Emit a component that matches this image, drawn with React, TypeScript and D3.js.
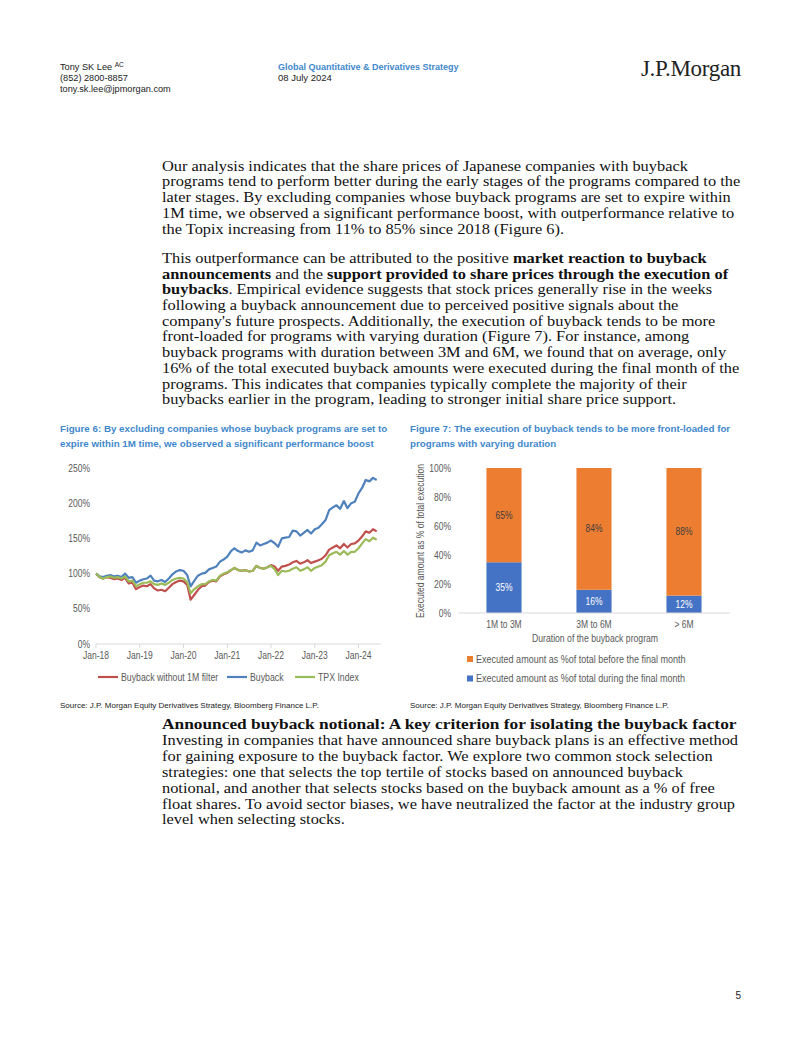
import React from "react";
import * as d3 from "d3";

// ---------- Figure 6 data (monthly, Jan-18 .. Jun-24) ----------
const startYear = 2018;
const buybackNo1M = [
  100, 95, 93, 95, 94, 92, 93, 91, 94, 86, 87, 78,
  81, 83, 82, 85, 79, 76, 77, 75, 80, 85, 88, 90,
  89, 84, 63, 70, 77, 82, 83, 88, 90, 89, 96, 99,
  101, 105, 108, 105, 104, 105, 103, 104, 111, 108, 107, 109,
  112, 110, 104, 110, 111, 113, 116, 118, 114, 116, 119, 115,
  117, 119, 121, 126, 134, 137, 140, 136, 142, 137, 142, 143,
  147, 153, 160, 158, 163, 160,
];
const buyback = [
  100, 96, 95, 97, 98, 96, 97, 95, 100, 94, 95, 87,
  90, 92, 93, 97, 90, 89, 91, 88, 93, 99, 103, 105,
  104, 98, 82, 90, 97, 100, 101, 106, 108, 110, 117, 120,
  124, 132, 136, 132, 130, 133, 131, 133, 144, 140, 142, 144,
  147, 143, 138, 150, 151, 152, 161, 160, 154, 158, 162, 157,
  163, 165, 170, 176, 190, 194, 197, 192, 203, 193, 200, 202,
  214, 222, 233, 231, 236, 233,
];
const tpxIndex = [
  100, 95, 93, 95, 96, 94, 95, 93, 96, 89, 90, 82,
  85, 87, 87, 89, 85, 84, 86, 84, 87, 91, 93, 94,
  93, 88, 72, 78, 82, 85, 85, 89, 91, 90, 97, 100,
  102, 105, 108, 105, 104, 105, 103, 104, 111, 108, 107, 109,
  111, 106, 98, 104, 103, 104, 107, 109, 104, 106, 109, 104,
  108, 110, 112, 117, 126, 129, 131, 127, 132, 127, 131, 131,
  136, 143, 149, 146, 151, 148,
];
const fig6Series = [
  { name: "Buyback without 1M filter", values: buybackNo1M, color: "#C0504D" },
  { name: "Buyback", values: buyback, color: "#4F81BD" },
  { name: "TPX Index", values: tpxIndex, color: "#9BBB59" },
];
const fig6YTicks = [0, 50, 100, 150, 200, 250];
const fig6XTickLabels = ["Jan-18", "Jan-19", "Jan-20", "Jan-21", "Jan-22", "Jan-23", "Jan-24"];

// ---------- Figure 7 data ----------
const fig7Categories = ["1M to 3M", "3M to 6M", "> 6M"];
const duringFinalMonth = [35, 16, 12];
const beforeFinalMonth = [65, 84, 88];
const fig7YTicks = [0, 20, 40, 60, 80, 100];

const BLUE_T = "#3F88CC";
const GREY = "#595959";
const SANS = "Liberation Sans, Arial, sans-serif";
const SERIF = "Liberation Serif, Times New Roman, serif";

type Seg = { t: string; b?: boolean };
const para1: Seg[][] = [
  [{ t: "Our analysis indicates that the share prices of Japanese companies with buyback" }],
  [{ t: "programs tend to perform better during the early stages of the programs compared to the" }],
  [{ t: "later stages. By excluding companies whose buyback programs are set to expire within" }],
  [{ t: "1M time, we observed a significant performance boost, with outperformance relative to" }],
  [{ t: "the Topix increasing from 11% to 85% since 2018 (Figure 6)." }],
];
const para2: Seg[][] = [
  [{ t: "This outperformance can be attributed to the positive " }, { t: "market reaction to buyback", b: true }],
  [{ t: "announcements", b: true }, { t: " and the " }, { t: "support provided to share prices through the execution of", b: true }],
  [{ t: "buybacks", b: true }, { t: ". Empirical evidence suggests that stock prices generally rise in the weeks" }],
  [{ t: "following a buyback announcement due to perceived positive signals about the" }],
  [{ t: "company's future prospects. Additionally, the execution of buyback tends to be more" }],
  [{ t: "front-loaded for programs with varying duration (Figure 7). For instance, among" }],
  [{ t: "buyback programs with duration between 3M and 6M, we found that on average, only" }],
  [{ t: "16% of the total executed buyback amounts were executed during the final month of the" }],
  [{ t: "programs. This indicates that companies typically complete the majority of their" }],
  [{ t: "buybacks earlier in the program, leading to stronger initial share price support." }],
];
const heading3: Seg[][] = [
  [{ t: "Announced buyback notional: A key criterion for isolating the buyback factor", b: true }],
];
const para3: Seg[][] = [
  [{ t: "Investing in companies that have announced share buyback plans is an effective method" }],
  [{ t: "for gaining exposure to the buyback factor. We explore two common stock selection" }],
  [{ t: "strategies: one that selects the top tertile of stocks based on announced buyback" }],
  [{ t: "notional, and another that selects stocks based on the buyback amount as a % of free" }],
  [{ t: "float shares. To avoid sector biases, we have neutralized the factor at the industry group" }],
  [{ t: "level when selecting stocks." }],
];

function Para({ lines, x, y, lh, sx = 1.115 }: { lines: Seg[][]; x: number; y: number; lh: number; sx?: number }) {
  return (
    <g fontFamily={SERIF} fontSize={14.7} fill="#111" transform={`translate(${x},${y}) scale(${sx},1)`}>
      {lines.map((segs, i) => (
        <text key={i} x={0} y={i * lh}>
          {segs.map((s, j) => (
            <tspan key={j} fontWeight={s.b ? "bold" : "normal"}>{s.t}</tspan>
          ))}
        </text>
      ))}
    </g>
  );
}

// condensed chart label (Arial Narrow look)
function T({
  x, y, children, anchor = "start", size = 10, fill = GREY, sx = 0.85, rotate = 0,
}: {
  x: number; y: number; children: React.ReactNode; anchor?: string; size?: number; fill?: string; sx?: number; rotate?: number;
}) {
  return (
    <text
      transform={`translate(${x},${y})${rotate ? ` rotate(${rotate})` : ""} scale(${sx},1)`}
      textAnchor={anchor as any}
      fontFamily={SANS}
      fontSize={size}
      fill={fill}
    >
      {children}
    </text>
  );
}

function Fig6() {
  const dates = buyback.map((_, i) => new Date(startYear, i, 1));
  const x = d3.scaleTime().domain([new Date(2018, 0, 1), new Date(2024, 0, 1)]).range([96, 358.5]);
  const y = d3.scaleLinear().domain([0, 250]).range([644, 468]);
  const line = d3.line<number>().x((_, i) => x(dates[i])).y((d) => y(d));
  const xTicks = fig6XTickLabels.map((_, i) => new Date(2018 + i, 0, 1));
  const legendX = [98, 227, 295];
  return (
    <g>
      <text x={60} y={432} fontFamily={SANS} fontWeight="bold" fontSize={9.75} fill={BLUE_T}>
        Figure 6: By excluding companies whose buyback programs are set to
      </text>
      <text x={60} y={447} fontFamily={SANS} fontWeight="bold" fontSize={9.75} fill={BLUE_T}>
        expire within 1M time, we observed a significant performance boost
      </text>
      {fig6YTicks.map((t) => (
        <T key={t} x={90} y={y(t) + 3.5} anchor="end">{t}%</T>
      ))}
      <line x1={96} x2={381} y1={644} y2={644} stroke="#D9D9D9" strokeWidth={1} />
      {xTicks.map((d, i) => (
        <g key={i}>
          <line x1={x(d)} x2={x(d)} y1={644} y2={648} stroke="#D9D9D9" />
          <T x={x(d)} y={659} anchor="middle">{fig6XTickLabels[i]}</T>
        </g>
      ))}
      {fig6Series.map((s) => (
        <path key={s.name} d={line(s.values) || ""} fill="none" stroke={s.color} strokeWidth={2.2} strokeLinejoin="round" />
      ))}
      {fig6Series.map((s, i) => (
        <g key={s.name}>
          <line x1={legendX[i]} x2={legendX[i] + 20} y1={677} y2={677} stroke={s.color} strokeWidth={2.2} />
          <T x={legendX[i] + 23} y={680.5} size={10.3}>{s.name}</T>
        </g>
      ))}
      <text x={60} y={708} fontFamily={SANS} fontSize={8} fill="#222">
        Source: J.P. Morgan Equity Derivatives Strategy, Bloomberg Finance L.P.
      </text>
    </g>
  );
}

function Fig7() {
  const x = d3.scaleBand<string>().domain(fig7Categories).range([459, 729]).paddingInner(0.61).paddingOuter(0.305);
  const y = d3.scaleLinear().domain([0, 100]).range([613, 468]);
  const stack = fig7Categories.map((c, i) => ({ c, during: duringFinalMonth[i], before: beforeFinalMonth[i] }));
  return (
    <g>
      <text x={410} y={432} fontFamily={SANS} fontWeight="bold" fontSize={9.75} fill={BLUE_T}>
        Figure 7: The execution of buyback tends to be more front-loaded for
      </text>
      <text x={410} y={447} fontFamily={SANS} fontWeight="bold" fontSize={9.75} fill={BLUE_T}>
        programs with varying duration
      </text>
      {fig7YTicks.map((t) => (
        <T key={t} x={451} y={y(t) + 3.5} anchor="end">{t}%</T>
      ))}
      <T x={424} y={541} anchor="middle" rotate={-90}>Executed amount as % of total execution</T>
      {stack.map((d) => {
        const bx = x(d.c) as number;
        const bw = x.bandwidth();
        return (
          <g key={d.c}>
            <rect x={bx} y={y(d.during)} width={bw} height={y(0) - y(d.during)} fill="#4472C4" />
            <rect x={bx} y={y(d.during + d.before)} width={bw} height={y(d.during) - y(d.during + d.before)} fill="#ED7D31" />
            <T x={bx + bw / 2} y={y(d.during / 2) + 3.5} anchor="middle" fill="#fff">{d.during}%</T>
            <T x={bx + bw / 2} y={y(d.during + d.before / 2) + 3.5} anchor="middle" fill="#404040">{d.before}%</T>
            <T x={bx + bw / 2} y={628} anchor="middle">{d.c}</T>
          </g>
        );
      })}
      <line x1={459} x2={730} y1={613} y2={613} stroke="#D9D9D9" />
      <T x={595} y={642} anchor="middle" size={10.2} sx={0.85}>Duration of the buyback program</T>
      <rect x={467} y={656} width={6} height={6} fill="#ED7D31" />
      <T x={476} y={662.5} size={10.5} sx={0.86}>Executed amount as %of total before the final month</T>
      <rect x={467} y={675.5} width={6} height={6} fill="#4472C4" />
      <T x={476} y={682} size={10.5} sx={0.86}>Executed amount as %of total during the final month</T>
      <text x={410} y={708} fontFamily={SANS} fontSize={8} fill="#222">
        Source: J.P. Morgan Equity Derivatives Strategy, Bloomberg Finance L.P.
      </text>
    </g>
  );
}

export default function App() {
  return (
    <svg width={802} height={1037} style={{ position: "absolute", left: 0, top: 0, background: "#fff" }}>
      <rect width={802} height={1037} fill="#fff" />
      {/* header */}
      <g fontFamily={SANS} fontSize={9.2} fill="#222">
        <text x={60} y={70}>
          Tony SK Lee <tspan fontSize={6.5} dy={-3.5}>AC</tspan>
        </text>
        <text x={60} y={81}>(852) 2800-8857</text>
        <text x={60} y={92}>tony.sk.lee@jpmorgan.com</text>
        <text x={278} y={70} fill={BLUE_T} fontWeight="bold" fontSize={9}>Global Quantitative &amp; Derivatives Strategy</text>
        <text x={278} y={81} fontSize={9.5}>08 July 2024</text>
      </g>
      <text x={741} y={76} textAnchor="end" fontFamily={SERIF} fontSize={23} fill="#222" letterSpacing={-0.3}>
        J.P.Morgan
      </text>
      <Para lines={para1} x={162} y={170.5} lh={15.8} />
      <Para lines={para2} x={162} y={263} lh={15.7} />
      <Fig6 />
      <Fig7 />
      <Para lines={heading3} x={162} y={729} lh={15.9} sx={1.18} />
      <Para lines={para3} x={162} y={745} lh={15.9} />
      <text x={741} y={999} textAnchor="end" fontFamily={SANS} fontSize={10} fill="#222">5</text>
    </svg>
  );
}
